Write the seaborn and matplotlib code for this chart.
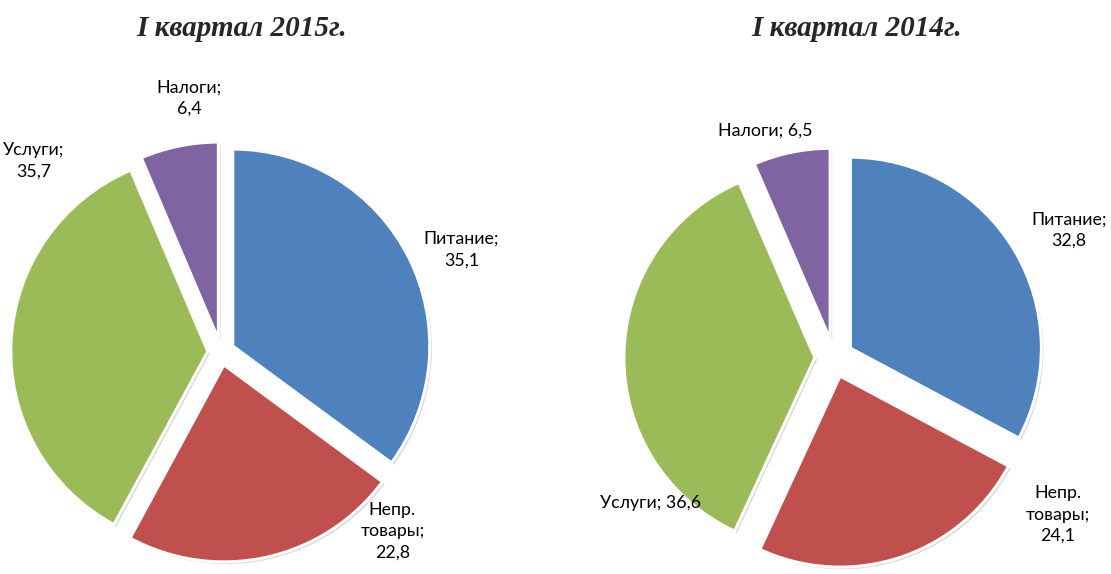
import matplotlib
matplotlib.use("Agg")
import matplotlib.pyplot as plt
import matplotlib.patheffects as pe
import seaborn as sns

# ---- data ----
categories = ["Питание", "Непр. товары", "Услуги", "Налоги"]
values_2015 = [35.1, 22.8, 35.7, 6.4]
values_2014 = [32.8, 24.1, 36.6, 6.5]
labels_2015 = ["Питание;\n35,1", "Непр.\nтовары;\n22,8", "Услуги;\n35,7", "Налоги;\n6,4"]
labels_2014 = ["Питание;\n32,8", "Непр.\nтовары;\n24,1", "Услуги; 36,6", "Налоги; 6,5"]
titles = ["I квартал 2015г.", "I квартал 2014г."]

colors = ["#4F81BD", "#C0504D", "#9BBB59", "#8064A2"]

sns.set_style("white")
plt.rcParams['font.family'] = ['Lato', 'DejaVu Sans']

W, H = 1111, 574
fig = plt.figure(figsize=(W / 100, H / 100), dpi=100)

# pie layout in pixels: center x, center y (from top), radius, explode, label spots (in radius units)
L = 1.6
pies = [
    dict(cx=221, cy=352, R=197, explode=0.067, values=values_2015, labels=labels_2015,
         spots=[(1.22, 0.52), (0.87, -0.91), (-0.95, 0.97), (-0.16, 1.29)], tx=242),
    dict(cx=834, cy=358, R=191, explode=0.10, values=values_2014, labels=labels_2014,
         spots=[(1.23, 0.67), (1.17, -0.82), (-0.96, -0.76), (-0.36, 1.19)], tx=857),
]

for p in pies:
    side = 2 * L * p['R']
    ax = fig.add_axes([(p['cx'] - side / 2) / W, (H - p['cy'] - side / 2) / H, side / W, side / H])
    wedges, texts = ax.pie(
        p['values'], colors=colors, labels=p['labels'], startangle=90, counterclock=False,
        explode=[p['explode']] * len(p['values']),
        wedgeprops=dict(edgecolor="white", linewidth=2.2),
        textprops=dict(fontsize=12.8, color="black", ha="center", va="center"),
    )
    for w in wedges:
        w.set_path_effects([pe.SimplePatchShadow(offset=(1.5, -1.5), shadow_rgbFace="#888888", alpha=0.35),
                            pe.Normal()])
    for t, (x, y) in zip(texts, p['spots']):
        t.set_position((x, y))
        t.set_horizontalalignment("center")
        t.set_verticalalignment("center")
        t.set_multialignment("center")
        t.set_linespacing(1.4)
    ax.set_xlim(-L, L)
    ax.set_ylim(-L, L)
    ax.set_aspect("equal")
    ax.axis("off")

for p, title in zip(pies, titles):
    fig.text(p['tx'] / W, 1 - 28 / H, title, ha="center", va="center",
             fontsize=21, fontweight="bold", fontstyle="italic", family="Liberation Serif")

fig.savefig("out.png", dpi=100)
